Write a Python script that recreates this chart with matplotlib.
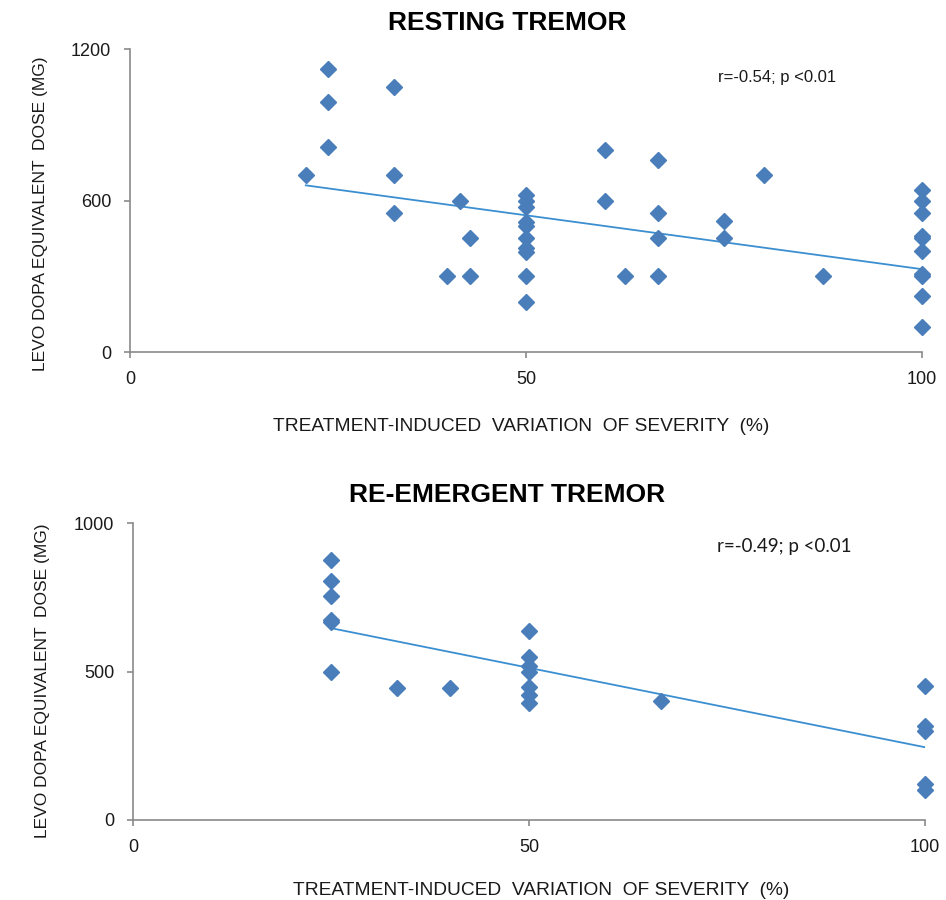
import numpy as np
import matplotlib.pyplot as plt

# resting tremor: % variation of severity vs levodopa equivalent dose (mg)
rest_x = [22.2, 25, 25, 25, 33.3, 33.3, 33.3, 40, 41.7, 42.9, 42.9,
          50, 50, 50, 50, 50, 50, 50, 50, 50, 50,
          60, 60, 62.5, 66.7, 66.7, 66.7, 66.7, 75, 75, 80, 87.5,
          100, 100, 100, 100, 100, 100, 100, 100, 100, 100]
rest_y = [700, 1120, 990, 810, 1050, 700, 550, 300, 600, 450, 300,
          620, 600, 575, 515, 500, 450, 410, 395, 300, 200,
          800, 600, 300, 760, 550, 450, 300, 520, 450, 700, 300,
          640, 600, 550, 460, 450, 400, 310, 300, 220, 100]
# trendline ends as drawn in the original
rest_trend_x = [22.2, 100]
rest_trend_y = [660, 328]

# re-emergent tremor
reem_x = [25, 25, 25, 25, 25, 25, 33.3, 40,
          50, 50, 50, 50, 50, 50, 50, 66.7,
          100, 100, 100, 100, 100]
reem_y = [875, 805, 755, 675, 665, 500, 445, 445,
          637, 550, 517, 500, 449, 421, 395, 400,
          450, 315, 300, 120, 100]
reem_trend_x = [25, 100]
reem_trend_y = [646, 245]

titles = ['RESTING TREMOR', 'RE-EMERGENT TREMOR']
stats = ['r=-0.54; p <0.01', 'r=-0.49; p <0.01']
yticks = [[0, 600, 1200], [0, 500, 1000]]
xticks = [0, 50, 100]

XLABEL = 'TREATMENT-INDUCED  VARIATION  OF SEVERITY  (%)'
YLABEL = 'LEVO DOPA EQUIVALENT  DOSE (MG)'

MARKER = '#4a7ebb'
TREND = '#3b8fd0'
AXC = '#8a8a8a'
TXT = '#1a1a1a'
FONT = 'Liberation Sans'

fig = plt.figure(figsize=(9.46, 9.0), dpi=100)
ax1 = fig.add_axes([130 / 946, 1 - 352 / 900, 792 / 946, 303 / 900])
ax2 = fig.add_axes([133 / 946, 1 - 820 / 900, 792 / 946, 297 / 900])

panels = [(ax1, rest_x, rest_y, rest_trend_x, rest_trend_y),
          (ax2, reem_x, reem_y, reem_trend_x, reem_trend_y)]

# per-panel placement tweaks
title_x = [0.476, 0.472]
title_pad = [14, 15]
xlabel_pad = [22, 19]
xlabel_x = [0.494, 0.515]
ylabel_xy = [(-0.1035, 0.455), (-0.105, 0.47)]
stat_xy = [(0.742, 0.907), (0.737, 0.92)]
stat_fonts = [FONT, 'Lato']
stat_sizes = [12, 13.5]

for i, (ax, xs, ys, tx, ty) in enumerate(panels):
    ax.plot(xs, ys, linestyle='none', marker='D', ms=7.8,
            color=MARKER, mec=MARKER, clip_on=False, zorder=3)
    ax.plot(tx, ty, color=TREND, lw=1.3, zorder=2)

    ax.set_xlim(0, 100)
    ax.set_ylim(0, yticks[i][-1])
    ax.set_xticks(xticks)
    ax.set_yticks(yticks[i])
    for side in ['top', 'right']:
        ax.spines[side].set_visible(False)
    for side in ['left', 'bottom']:
        ax.spines[side].set_color(AXC)
        ax.spines[side].set_linewidth(1.2)
    ax.tick_params(direction='out', length=4.5, width=1.2, color=AXC,
                   labelsize=13, pad=9, labelcolor=TXT)
    for lab in ax.get_xticklabels() + ax.get_yticklabels():
        lab.set_family(FONT)

    ax.set_xlabel(XLABEL, fontsize=13.8, family=FONT, labelpad=xlabel_pad[i],
                  color=TXT, x=xlabel_x[i])
    ax.set_ylabel(YLABEL, fontsize=12.5, family=FONT, color=TXT)
    ax.yaxis.set_label_coords(*ylabel_xy[i])
    ax.set_title(titles[i], fontsize=19, family=FONT, fontweight='bold',
                 pad=title_pad[i], x=title_x[i])
    ax.text(stat_xy[i][0], stat_xy[i][1], stats[i],
            transform=ax.transAxes, fontsize=stat_sizes[i],
            family=stat_fonts[i], va='center', ha='left', color=TXT)

plt.savefig('out.png', dpi=100)
plt.close()
